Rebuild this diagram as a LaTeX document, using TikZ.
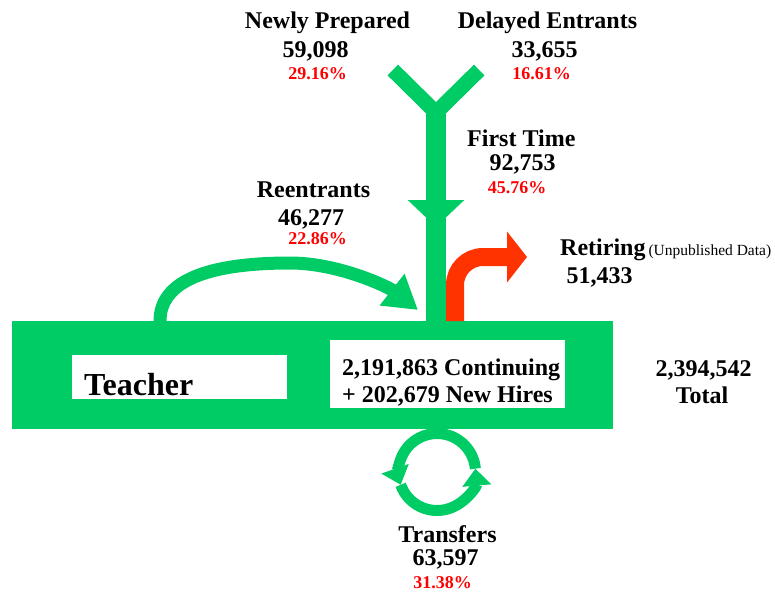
\documentclass[tikz,border=0pt]{standalone}
\usepackage{fontspec}
\setmainfont{Liberation Serif}
\usepackage{tikz}
\usetikzlibrary{arrows.meta,positioning,calc}
\definecolor{flowgreen}{HTML}{00CC66}
\definecolor{retire}{HTML}{FF3300}
\definecolor{pct}{HTML}{FF0000}
\tikzset{
  count/.style={font=\bfseries\fontsize{24}{28}\selectfont,inner sep=0pt,anchor=base},
  share/.style={font=\bfseries\fontsize{18}{20}\selectfont,text=pct,inner sep=0pt,anchor=base},
  pipe/.style={draw=flowgreen,line width=20pt},
  arm/.style={draw=flowgreen,line width=15pt,line join=miter},
  reentry/.style={draw=flowgreen,line width=13pt,-{Triangle[width=38pt,length=33pt]}},
  turnover/.style={draw=flowgreen,line width=11pt,-{Triangle[width=28pt,length=17pt]}},
  leaving/.style={draw=retire,line width=18pt,rounded corners=28pt,-{Triangle[width=50pt,length=20pt]}},
  whitebox/.style={fill=white,draw=none,inner sep=0pt,anchor=north west},
}

\begin{document}
\begin{tikzpicture}[x=1pt,y=-1pt]
  \useasboundingbox (0,0) rectangle (775,592);
  % main bar
  \node[fill=flowgreen,minimum width=601pt,minimum height=108pt,inner sep=0pt] (bar) at (312.5,375) {};
  \node[whitebox,minimum width=215pt,minimum height=44pt] (teacherbox) at (72,355) {};
  \node[count,anchor=base west,font=\bfseries\fontsize{32}{36}\selectfont] (teacher) at (84,395) {Teacher};
  \node[whitebox,minimum width=235pt,minimum height=68pt] (hirebox) at (330,340) {};
  \node[count,anchor=base west] (cont) at (342,375) {2,191,863 Continuing};
  \node[count,anchor=base west] (hires) at (342,402) {+ 202,679 New Hires};
  \node[count] (tot) at (703.5,376) {2,394,542};
  \node[count] (totl) at (702,403) {Total};

  % sources
  \node[count] (np) at (327.5,28) {Newly Prepared};
  \node[count] (npn) at (315.5,57) {59,098};
  \node[share] (npp) at (317.5,79) {29.16\%};
  \node[count] (de) at (547.5,28) {Delayed Entrants};
  \node[count] (den) at (544.5,57) {33,655};
  \node[share] (dep) at (541.5,79) {16.61\%};
  \node[count] (ft) at (521.3,146) {First Time};
  \node[count] (ftn) at (522.5,170) {92,753};
  \node[share] (ftp) at (517,193) {45.76\%};
  \node[count] (re) at (313.5,197) {Reentrants};
  \node[count] (ren) at (311,225) {46,277};
  \node[share] (rep) at (317.5,244) {22.86\%};
  \node[count,anchor=base west] (ret) at (560,255) {Retiring\hspace{3pt}{\mdseries\fontsize{15.5}{17}\selectfont(Unpublished Data)}};
  \node[count] (retn) at (599.5,283) {51,433};
  \node[count] (tr) at (447.5,542) {Transfers};
  \node[count] (trn) at (445.5,565) {63,597};
  \node[share] (trp) at (442.5,588) {31.38\%};

  \coordinate (npend) at (392.8,70);
  \coordinate (deend) at (479.2,70);
  \coordinate (fork) at (436,112.6);
  \coordinate (ftend) at (436,227);
  \coordinate (reout) at (160,321);
  \coordinate (rein) at (418,310);
  \coordinate (retout) at (455,321);
  \coordinate (retend) at (527,257);
  \coordinate (hub) at (437,472);

  % flows
  \draw[arm] (npend) -- (fork) -- (deend);
  \draw[pipe,-{Triangle[width=55pt,length=27pt]}] (fork) -- (ftend);
  \draw[pipe] ($(ftend)+(0,-27)$) -- (fork |- bar.north);
  \draw[reentry] (reout) .. controls (160,280) and (210,263) .. (290,263)
    .. controls (340,263) and (390,288) .. (rein);
  \draw[leaving] (retout) |- (retend);
  \draw[turnover] (hub) ++(355:38.5) arc[start angle=355,end angle=160.6,radius=38.5];
  \draw[turnover] (hub) ++(160.6:38.5) arc[start angle=160.6,end angle=-5,radius=38.5];
\end{tikzpicture}
\end{document}
